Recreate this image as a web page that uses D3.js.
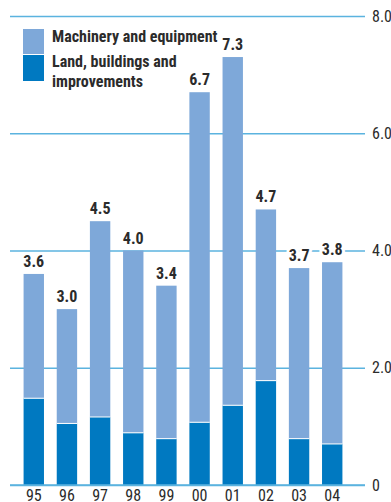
<!DOCTYPE html>
<html>
<head>
<meta charset="utf-8">
<script src="https://cdn.jsdelivr.net/npm/d3@7"></script>
<style>
  html, body { margin: 0; padding: 0; background: #fff; }
  svg { display: block; }
  text { font-family: "Liberation Sans Narrow", "Arial Narrow", "Roboto Condensed", "Liberation Sans", sans-serif; }
</style>
</head>
<body>
<svg id="chart" width="391" height="502"></svg>
<script>
// Capital spending by year, in two stacked components
const years = ["95", "96", "97", "98", "99", "00", "01", "02", "03", "04"];
const land = [1.48, 1.05, 1.16, 0.89, 0.79, 1.07, 1.36, 1.78, 0.79, 0.70];
const machinery = [2.12, 1.95, 3.34, 3.11, 2.61, 5.63, 5.94, 2.92, 2.91, 3.10];
const yTicks = [0, 2, 4, 6, 8];
const seriesNames = ["Machinery and equipment", "Land, buildings and improvements"];

const colors = { machinery: "#7EA8D9", land: "#0079C1", grid: "#5BB3DF", text: "#2b2b2b" };

const rows = years.map((y, i) => ({ year: y, land: land[i], machinery: machinery[i] }));
const stack = d3.stack().keys(["land", "machinery"])(rows);

const svg = d3.select("#chart");

const x = d3.scaleBand().domain(years).range([7, 359]).paddingInner(0.385).paddingOuter(0.5);
const y = d3.scaleLinear().domain([0, 8]).range([485, 16]);

// horizontal gridlines with value labels on the right
const gridG = svg.append("g");
const yAxis = d3.axisRight(y).tickValues(yTicks)
  .tickFormat(d => d === 0 ? "0" : d3.format(".1f")(d))
  .tickSize(355).tickPadding(7);
gridG.attr("transform", "translate(10,0)").call(yAxis);
gridG.select(".domain").remove();
gridG.selectAll(".tick line").attr("stroke", colors.grid).attr("stroke-width", 1.5);
gridG.selectAll(".tick text")
  .attr("fill", colors.text).style("font-size", "16px")
  .attr("stroke", "#fff").attr("stroke-width", 6).attr("paint-order", "stroke");

// stacked bars
svg.append("g").selectAll("g")
  .data(stack).join("g")
  .attr("fill", d => colors[d.key])
  .selectAll("rect")
  .data(d => d).join("rect")
  .attr("x", d => x(d.data.year))
  .attr("width", x.bandwidth())
  .attr("y", d => y(d[1]))
  .attr("height", d => y(d[0]) - y(d[1]));

// thin white separator between segments
svg.append("g").selectAll("line")
  .data(rows).join("line")
  .attr("x1", d => x(d.year)).attr("x2", d => x(d.year) + x.bandwidth())
  .attr("y1", d => y(d.land)).attr("y2", d => y(d.land))
  .attr("stroke", "#fff").attr("stroke-width", 1);

// baseline redrawn over bars
svg.append("line")
  .attr("x1", 10).attr("x2", 365).attr("y1", y(0)).attr("y2", y(0))
  .attr("stroke", colors.grid).attr("stroke-width", 1.5);

// total value labels
svg.append("g").selectAll("text")
  .data(rows).join("text")
  .attr("x", d => x(d.year) + x.bandwidth() / 2)
  .attr("y", d => y(d.land + d.machinery) - 7)
  .attr("text-anchor", "middle")
  .attr("fill", colors.text)
  .style("font-size", "16px").style("font-weight", "bold")
  .attr("stroke", "#fff").attr("stroke-width", 6).attr("paint-order", "stroke")
  .text(d => d3.format(".1f")(d.land + d.machinery));

// year labels
svg.append("g").selectAll("text")
  .data(years).join("text")
  .attr("x", d => x(d) + x.bandwidth() / 2)
  .attr("y", 501)
  .attr("text-anchor", "middle")
  .attr("fill", colors.text)
  .style("font-size", "16px")
  .text(d => d);

// legend
const legend = svg.append("g");
legend.append("rect").attr("x", 23).attr("y", 29).attr("width", 21).attr("height", 25).attr("fill", colors.machinery);
legend.append("rect").attr("x", 23).attr("y", 55).attr("width", 21).attr("height", 26).attr("fill", colors.land);
legend.append("text").attr("x", 52).attr("y", 42)
  .attr("fill", colors.text).style("font-size", "16px").style("font-weight", "bold")
  .text(seriesNames[0]);
const t2 = legend.append("text").attr("x", 52).attr("y", 67)
  .attr("fill", colors.text).style("font-size", "16px").style("font-weight", "bold");
t2.append("tspan").attr("x", 52).text("Land, buildings and");
t2.append("tspan").attr("x", 52).attr("dy", 20).text("improvements");
</script>
</body>
</html>
